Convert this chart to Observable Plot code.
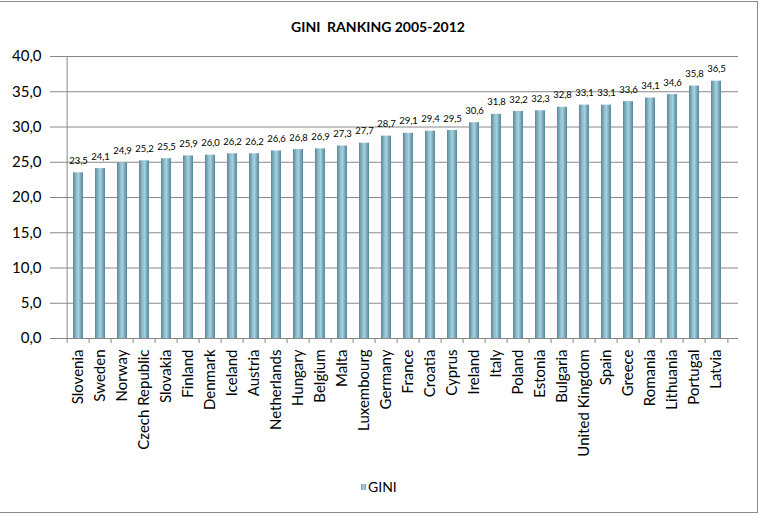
<!DOCTYPE html>
<html>
<head>
<meta charset="utf-8">
<script src="https://cdn.jsdelivr.net/npm/d3@7"></script>
<script src="https://cdn.jsdelivr.net/npm/@observablehq/plot@0.6"></script>
<style>
  html, body { margin: 0; padding: 0; background: #fff; }
  #wrap { position: relative; width: 759px; height: 514px; overflow: hidden; font-family: Lato, "Open Sans", sans-serif; }
  #border { position: absolute; top: 1px; left: -5px; width: 763px; height: 512px; border: 1px solid #8a8a8a; box-sizing: border-box; pointer-events: none; }
  #title { position: absolute; top: 18px; left: 0; width: 756px; text-align: center; font-weight: bold; font-size: 14px; color: #000; white-space: pre; }
  #legend { position: absolute; top: 478px; left: 361px; font-size: 14px; color: #000; display: flex; align-items: center; gap: 2px; }
  #legend .sw { width: 5px; height: 6px; background: linear-gradient(90deg, #6b96a7, #a9d2e0 50%, #6b96a7); display: inline-block; }
  #chart { position: absolute; top: 0; left: 0; }
</style>
</head>
<body>
<div id="wrap">
  <div id="chart"></div>
  <div id="title">GINI  RANKING 2005-2012</div>
  <div id="legend"><span class="sw"></span><span>GINI</span></div>
  <div id="border"></div>
</div>
<script>
const countries = ["Slovenia","Sweden","Norway","Czech Republic","Slovakia","Finland","Denmark","Iceland","Austria","Netherlands","Hungary","Belgium","Malta","Luxembourg","Germany","France","Croatia","Cyprus","Ireland","Italy","Poland","Estonia","Bulgaria","United Kingdom","Spain","Greece","Romania","Lithuania","Portugal","Latvia"];
const gini = [23.5,24.1,24.9,25.2,25.5,25.9,26.0,26.2,26.2,26.6,26.8,26.9,27.3,27.7,28.7,29.1,29.4,29.5,30.6,31.8,32.2,32.3,32.8,33.1,33.1,33.6,34.1,34.6,35.8,36.5];
const yTicks = [0,5,10,15,20,25,30,35,40];
const seriesName = "GINI";

const data = countries.map((c, i) => ({country: c, gini: gini[i]}));
const fmt = v => d3.format(".1f")(v).replace(".", ",");

const W = 759, H = 514, mL = 55, mR = 21, mT = 56, mB = 176;
const half = (W - mL - mR) / countries.length / 2;

const plot = Plot.plot({
  width: W, height: H,
  marginLeft: mL, marginRight: mR, marginTop: mT, marginBottom: mB,
  style: {fontFamily: "Lato, 'Open Sans', sans-serif", background: "transparent", color: "#000"},
  x: {domain: countries, paddingInner: 0.56, paddingOuter: 0.28, label: null},
  y: {domain: [0, 40], label: null},
  marks: [
    Plot.ruleY(yTicks, {stroke: "#888", strokeWidth: 1}),
    Plot.ruleX([countries[0]], {y1: 0, y2: 40, dx: -half, stroke: "#888"}),
    Plot.ruleX(countries, {y1: 0, y2: -0.71, dx: -half, stroke: "#888"}),
    Plot.ruleX([countries[countries.length - 1]], {y1: 0, y2: -0.71, dx: half, stroke: "#888"}),
    Plot.axisY(yTicks, {tickSize: 5, tickPadding: 9, tickFormat: fmt, fontSize: 15, stroke: "#888", label: null}),
    Plot.axisX({tickSize: 0, tickRotate: -90, tickPadding: 11, fontSize: 15, label: null}),
    Plot.barY(data, {x: "country", y: "gini", fill: "url(#barGrad)"}),
    Plot.text(data, {x: "country", y: "gini", text: d => fmt(d.gini), dy: -12, fontSize: 9.5, fill: "#000"})
  ]
});

const ns = "http://www.w3.org/2000/svg";
const defs = document.createElementNS(ns, "defs");
defs.innerHTML = `
<linearGradient id="barGrad" x1="0" y1="0" x2="1" y2="0">
  <stop offset="0" stop-color="#5a8798"/>
  <stop offset="0.35" stop-color="#90bfd0"/>
  <stop offset="0.55" stop-color="#a3cfde"/>
  <stop offset="1" stop-color="#578496"/>
</linearGradient>`;
plot.insertBefore(defs, plot.firstChild);
document.getElementById("chart").appendChild(plot);
</script>
</body>
</html>
